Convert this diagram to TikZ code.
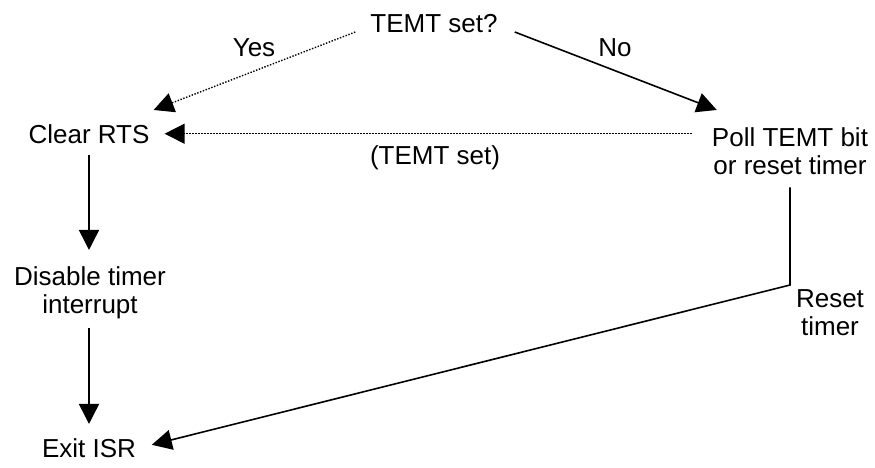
\documentclass[tikz,border=0pt]{standalone}
\usepackage{fontspec}
\setmainfont{Liberation Sans}
\usetikzlibrary{arrows.meta}

\tikzset{
    lbl/.style = {font = \fontsize{26}{28}\selectfont, inner sep = 4pt, align = center},
    flow/.style = {line width = 1.6pt, -{Triangle[length = 20pt, width = 20pt]}},
    weak/.style = {line width = 1.4pt, dash pattern = on 1.4pt off 1.6pt, -{Triangle[length = 20pt, width = 20pt]}},
}

\begin{document}
\begin{tikzpicture}[x = 1pt, y = -1pt]
        \useasboundingbox (0, 0) rectangle (875, 467);

        \node (temt) at (434, 32) [lbl, anchor = base] {TEMT set?};
        \node (clear) at (89, 143) [lbl, anchor = base] {Clear RTS};
        \node (poll) at (790, 174) [lbl, anchor = base] {Poll TEMT bit\\or reset timer};
        \node (disable) at (90, 313) [lbl, anchor = base] {Disable timer\\interrupt};
        \node (exit) at (89, 457) [lbl, anchor = base] {Exit ISR};
        \coordinate (bend) at (790, 285);

        \node (yes) at (254, 56) [lbl, anchor = base] {Yes};
        \node (no) at (615, 56) [lbl, anchor = base] {No};
        \node (tset) at (435, 164) [lbl, anchor = base] {(TEMT set)};
        \node (reset) at (830, 335) [lbl, anchor = base] {Reset\\timer};

        \draw [weak] ([xshift = -11pt]temt.base west) -- ([yshift = 10pt]clear.north east);
        \draw [flow] ([xshift = 13pt]temt.base east) -- ([xshift = 9pt, yshift = 13pt]poll.north west);
        \draw [weak, shorten <= 16pt, shorten >= 11pt] (poll.west |- clear.east) -- (clear.east);

        \draw [flow, shorten <= 8pt, shorten >= 12pt] (clear.south) -- (clear.south |- disable.north);
        \draw [flow, shorten <= 5pt, shorten >= 10pt] (exit.north |- disable.south) -- (exit.north);
        \draw [flow, shorten <= 9pt, shorten >= 12pt] (poll.south) -- (poll.south |- bend) -- (exit.east);
    \end{tikzpicture}
\end{document}
